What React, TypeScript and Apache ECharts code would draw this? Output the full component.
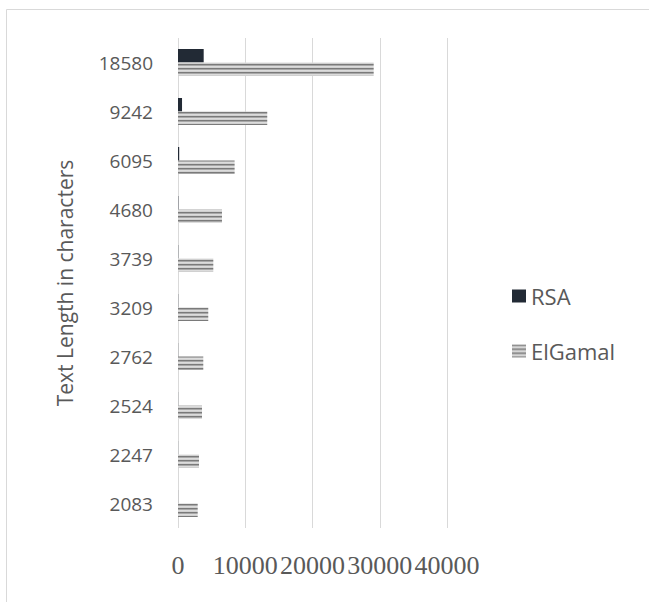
import React, { useEffect, useRef } from "react";
import * as echarts from "echarts";

const categories = ["2083", "2247", "2524", "2762", "3209", "3739", "4680", "6095", "9242", "18580"];
const rsaValues = [10, 12, 15, 18, 24, 30, 45, 180, 600, 3820];
const elgamalValues = [2930, 3120, 3570, 3760, 4500, 5250, 6540, 8420, 13270, 29100];
const xMin = 0;
const xMax = 40000;
const xInterval = 10000;
const seriesNames = ["RSA", "ElGamal"];
const yTitle = "Text Length in characters";

function makeStripe(): HTMLCanvasElement {
  const c = document.createElement("canvas");
  c.width = 4;
  c.height = 4;
  const ctx = c.getContext("2d")!;
  const rows = ["#7a7a7a", "#a8a8a8", "#dcdcdc", "#d0d0d0"];
  rows.forEach((col, i) => {
    ctx.fillStyle = col;
    ctx.fillRect(0, i, 4, 1);
  });
  return c;
}

export default function App() {
  const ref = useRef<HTMLDivElement>(null);
  useEffect(() => {
    if (!ref.current) return;
    const chart = echarts.init(ref.current, undefined, { renderer: "svg" });
    const stripe = { image: makeStripe(), repeat: "repeat" } as any;
    const labelColor = "#595959";
    chart.setOption({
      animation: false,
      backgroundColor: "#ffffff",
      graphic: [
        {
          type: "rect",
          shape: { x: 6.5, y: 9.5, width: 700, height: 700 },
          style: { fill: "none", stroke: "#d9d9d9", lineWidth: 1 },
          silent: true,
        },
      ],
      grid: { left: 178, top: 38, width: 269, height: 490, containLabel: false },
      legend: {
        data: seriesNames,
        orient: "vertical",
        left: 507,
        top: 280,
        itemWidth: 14,
        itemHeight: 13,
        itemGap: 33,
        icon: "rect",
        textStyle: { fontFamily: "Open Sans", fontSize: 22, color: labelColor },
      },
      xAxis: {
        type: "value",
        min: xMin,
        max: xMax,
        interval: xInterval,
        axisLine: { show: false },
        axisTick: { show: false },
        splitLine: { show: true, lineStyle: { color: "#d9d9d9", width: 1 } },
        axisLabel: {
          fontFamily: "Liberation Serif",
          fontSize: 26,
          color: labelColor,
          margin: 24,
          showMinLabel: true,
          showMaxLabel: true,
          hideOverlap: false,
          formatter: (v: number) => String(v),
        },
      },
      yAxis: {
        type: "category",
        data: categories,
        name: yTitle,
        nameLocation: "middle",
        nameGap: 103,
        nameTextStyle: { fontFamily: "Open Sans", fontSize: 21, color: labelColor },
        axisLine: { show: false },
        axisTick: { show: false },
        splitLine: { show: false },
        axisLabel: {
          fontFamily: "Open Sans",
          fontSize: 19,
          color: labelColor,
          margin: 25,
        },
      },
      series: [
        {
          name: seriesNames[0],
          type: "bar",
          data: rsaValues,
          barWidth: 13.5,
          barGap: "0%",
          itemStyle: { color: "#222a35" },
        },
        {
          name: seriesNames[1],
          type: "bar",
          data: elgamalValues,
          barWidth: 13.5,
          barGap: "0%",
          itemStyle: { color: stripe },
        },
      ],
    });
    return () => chart.dispose();
  }, []);
  return (
    <div
      ref={ref}
      style={{ position: "fixed", left: 0, top: 0, width: 649, height: 602 }}
    />
  );
}
